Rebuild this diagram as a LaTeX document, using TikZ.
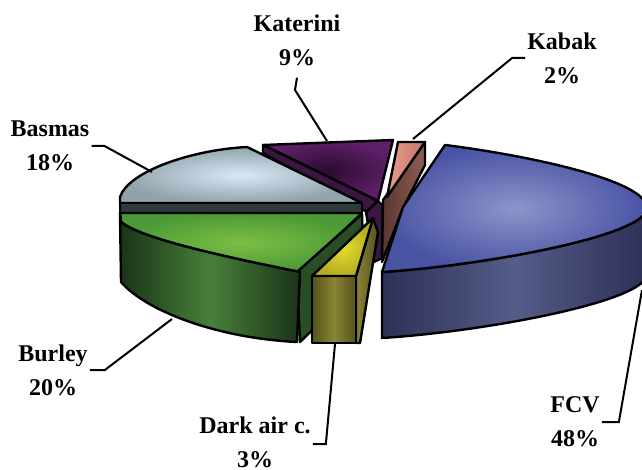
\documentclass[tikz,border=0pt]{standalone}
\usepackage{fontspec}
\setmainfont{Liberation Serif}
\definecolor{fcvLight}{HTML}{8D95CA}
\definecolor{fcvDark}{HTML}{4953A4}
\definecolor{fcvSide}{HTML}{2E3057}
\definecolor{fcvSideMid}{HTML}{555C88}
\definecolor{basmasLight}{HTML}{D8E9F4}
\definecolor{basmasDark}{HTML}{8FA3AD}
\definecolor{bandGray}{HTML}{2E3B3A}
\definecolor{burleyLight}{HTML}{7CBE44}
\definecolor{burleyDark}{HTML}{4B9A36}
\definecolor{burleySide}{HTML}{1A3318}
\definecolor{burleySideMid}{HTML}{47803A}
\definecolor{burleyCut}{HTML}{294E25}
\definecolor{darkairLight}{HTML}{E6DE2C}
\definecolor{darkairDark}{HTML}{B4AB22}
\definecolor{darkairSide}{HTML}{55521E}
\definecolor{darkairSideMid}{HTML}{8A8434}
\definecolor{kateriniLight}{HTML}{5E1F68}
\definecolor{kateriniDark}{HTML}{2A0C2E}
\definecolor{kateriniSide}{HTML}{3C1545}
\definecolor{kabakLight}{HTML}{E89C8E}
\definecolor{kabakDark}{HTML}{C4776A}
\definecolor{kabakSide}{HTML}{5A3531}
\definecolor{kabakSideMid}{HTML}{8E5D55}

\begin{document}
\begin{tikzpicture}[x=1pt,y=-1pt]
  \tikzset{
    face/.style={draw=black,line width=2.4pt,line join=round},
    leader/.style={draw=black,line width=2pt,line join=miter},
    lbl/.style={align=center,inner sep=2pt,font=\fontsize{24}{34}\selectfont\bfseries}
  }
  \clip (0,0) rectangle (642,470);

  \draw[face,inner color=kateriniDark,outer color=kateriniLight] (263,145) -- (393,140) -- (378,201) -- cycle;
  \draw[face,fill=kateriniSide] (263,145) -- (378,201) -- (367,212) -- (263,153) -- cycle;
  \draw[face,fill=kateriniSide] (366,212) -- (378,201) -- (383,206) -- (382,258) -- (374,262) -- cycle;

  \draw[face,left color=kabakSide,right color=kabakSideMid] (425,142) -- (425,165) -- (403,208) -- (382,262) -- (383,200) -- cycle;
  \draw[face,left color=kabakLight,right color=kabakDark] (398,142) -- (425,142) -- (387,197) -- cycle;

  \draw[face,inner color=basmasLight,outer color=basmasDark] (120,203) -- (120,197) .. controls (128,172) and (190,150) .. (247,147) -- (362,203) -- cycle;
  \draw[face,fill=bandGray] (120,203) -- (362,203) -- (362,213) -- (120,213) -- cycle;

  \draw[face,inner color=burleyLight,outer color=burleyDark] (120,213) -- (362,213) -- (300,272) .. controls (220,256) and (140,238) .. (121,222) -- cycle;
  \draw[face,fill=burleyCut] (297,272) -- (362,214) -- (364,280) -- (300,342) -- cycle;
  \draw[face,left color=burleySide,right color=burleySide,middle color=burleySideMid] (120,213) -- (121,282) .. controls (145,310) and (215,338) .. (297,342) -- (300,272) .. controls (220,256) and (140,238) .. (121,222) -- cycle;

  \draw[face,left color=darkairSideMid,right color=darkairSide] (356,276) -- (373,218) -- (378,232) -- (360,343) -- (356,343) -- cycle;
  \draw[face,left color=darkairSide,right color=darkairSide,middle color=darkairSideMid] (312,276) -- (356,276) -- (356,343) -- (312,343) -- cycle;
  \draw[face,inner color=darkairLight,outer color=darkairDark] (312,276) -- (356,276) -- (373,218) -- cycle;

  \draw[face,left color=fcvSide,right color=fcvSide,middle color=fcvSideMid] (382,272) -- (382,338) .. controls (480,332) and (647,302) .. (647,274) -- (647,208) .. controls (647,236) and (480,266) .. (382,272) -- cycle;
  \draw[face,inner color=fcvLight,outer color=fcvDark] (382,272) -- (403,207) -- (445,145) .. controls (525,155) and (647,180) .. (647,208) .. controls (647,236) and (480,266) .. (382,272) -- cycle;

  \coordinate (katerini-tip) at (327,141);
  \coordinate (katerini-knee) at (295,90);
  \coordinate (kabak-tip) at (413,139);
  \coordinate (basmas-tip) at (152,172);
  \coordinate (burley-tip) at (172,319);
  \coordinate (darkair-tip) at (335,344);
  \coordinate (fcv-tip) at (642,290);

  \node[lbl] (katerini) at (297,40) {Katerini\\9\%};
  \node[lbl] (kabak) at (562,58) {Kabak\\2\%};
  \node[lbl] (basmas) at (50,146) {Basmas\\18\%};
  \node[lbl] (burley) at (53,370) {Burley\\20\%};
  \node[lbl] (darkair) at (255,442) {Dark air c.\\3\%};
  \node[lbl] (fcv) at (575,422) {FCV\\48\%};

  \draw[leader] ([yshift=-10pt]katerini.south) -- (katerini-knee) -- (katerini-tip);
  \draw[leader] (kabak.west) -- ++(-13,0) -- (kabak-tip);
  \draw[leader] (basmas.east) -- ++(13,0) -- (basmas-tip);
  \draw[leader] (burley.east) -- ++(15,0) -- (burley-tip);
  \draw[leader] ([yshift=-2pt]darkair.east) -- ++(13,0) -- (darkair-tip);
  \draw[leader] (fcv.east) -- ++(17,0) -- (fcv-tip);
\end{tikzpicture}
\end{document}
